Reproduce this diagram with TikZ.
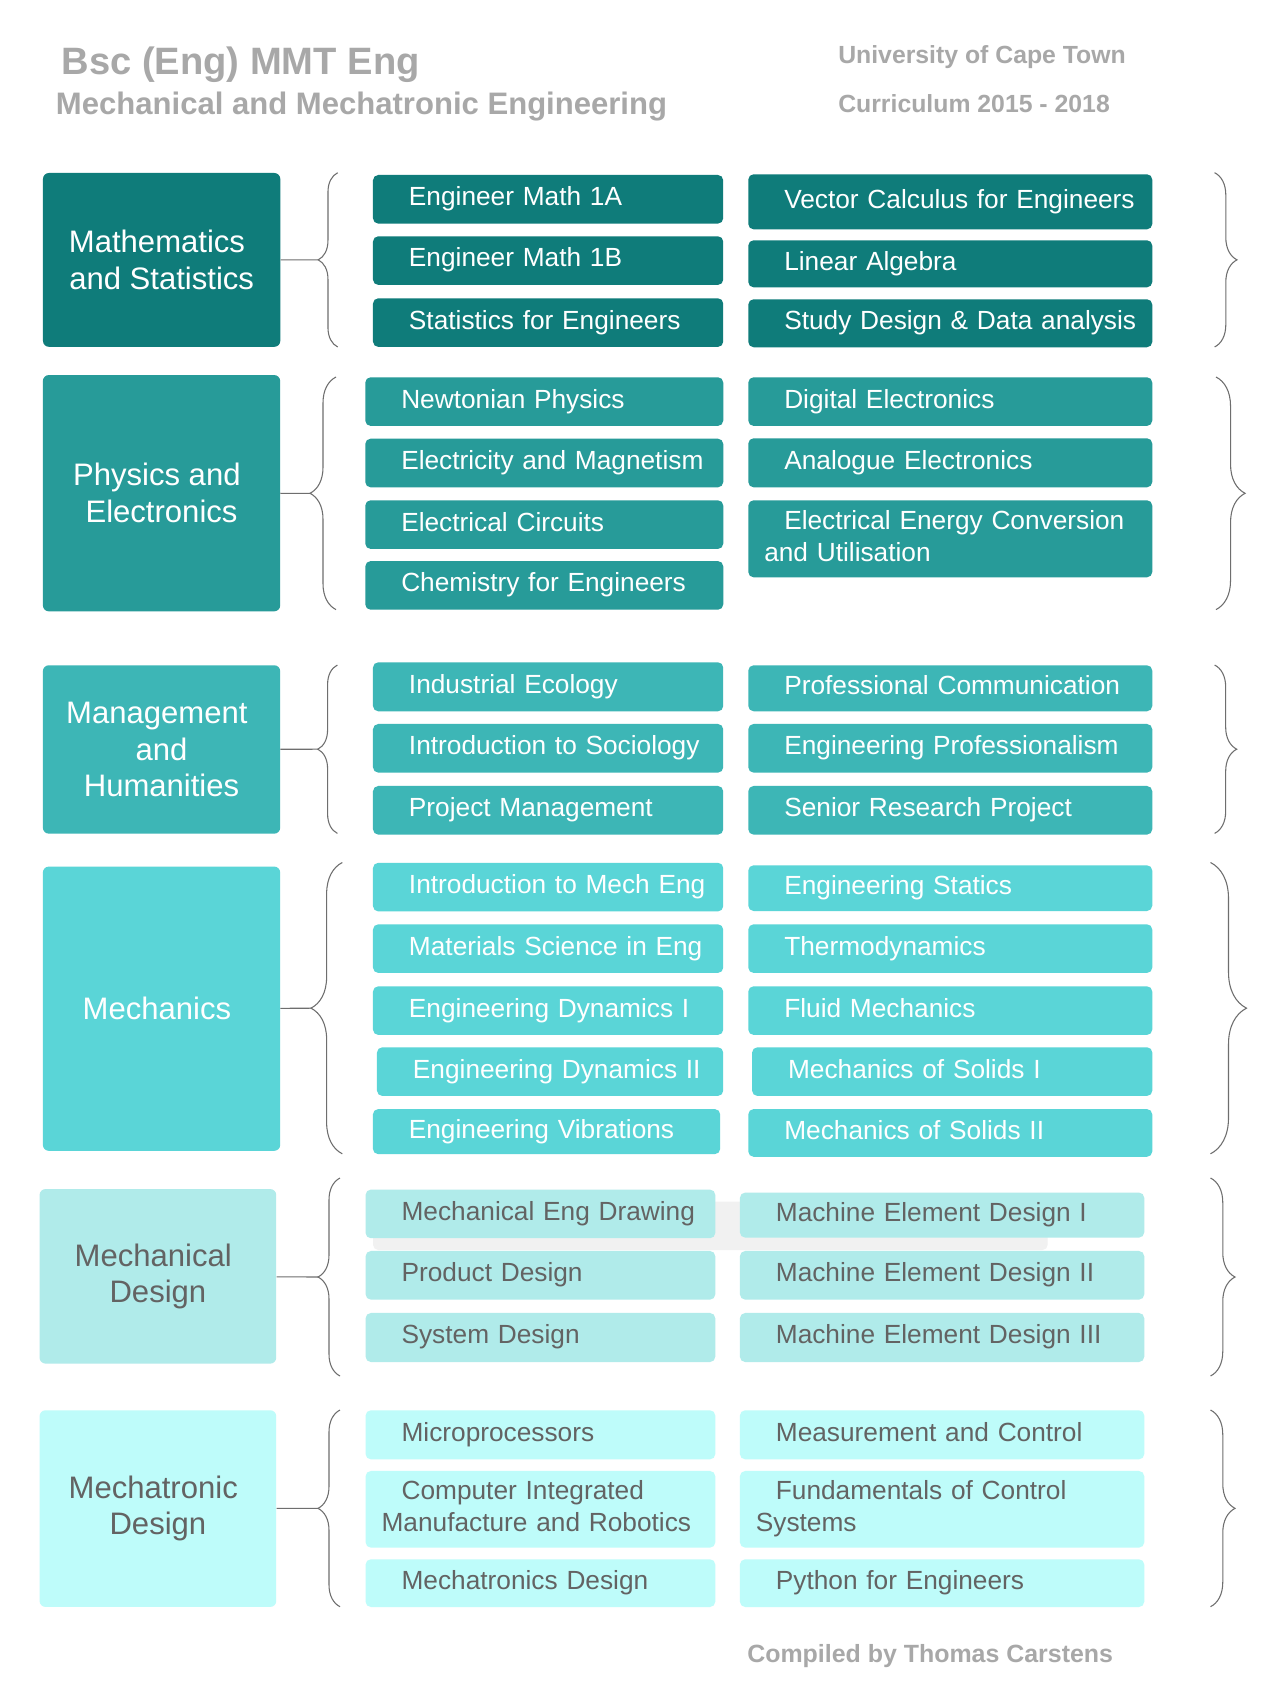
\documentclass[tikz,border=0pt]{standalone}
\usepackage{fontspec}
\setmainfont{Liberation Sans}
\usetikzlibrary{decorations.pathreplacing}
\definecolor{tealA}{HTML}{0F7C7A}
\definecolor{tealB}{HTML}{279B99}
\definecolor{tealC}{HTML}{3DB6B6}
\definecolor{tealD}{HTML}{5AD5D7}
\definecolor{tealE}{HTML}{B0EBEA}
\definecolor{tealF}{HTML}{BEFCFA}
\definecolor{darktext}{HTML}{636363}
\definecolor{headgray}{HTML}{A8A8A8}
\definecolor{linegray}{HTML}{6E6E6E}
\definecolor{shadegray}{HTML}{F1F1F1}

\begin{document}
\begin{tikzpicture}[x=0.75pt,y=-0.75pt,
		group/.style={rounded corners=4.5pt,anchor=north west,align=center,inner sep=4pt,font=\fontsize{23.3}{27.5}\selectfont},
		course/.style={rounded corners=4pt,anchor=north west,align=left,inner xsep=6pt,inner ysep=2pt,minimum height=36.5pt,font=\fontsize{19.7}{24}\selectfont,execute at begin node={\hspace*{21pt}\strut},execute at end node=\strut},
		cola/.style={course,text width=250.7pt},
		colb/.style={course,text width=291pt},
		rowa/.style={fill=tealA,text=white},
		rowb/.style={fill=tealB,text=white},
		rowc/.style={fill=tealC,text=white},
		rowd/.style={fill=tealD,text=white},
		rowe/.style={fill=tealE,text=darktext},
		rowf/.style={fill=tealF,text=darktext},
		head/.style={anchor=base west,inner sep=0pt,text=headgray,font=\bfseries\fontsize{#1}{#1}\selectfont},
		link/.style={draw=linegray,line width=0.8pt},
		curly/.style={link,decorate,decoration={brace,amplitude=#1}}]
		\path[fill=white] (0,0) rectangle (1284,1705);
		% titles
		\node[head=28.6pt] (title) at (61.4,75) {Bsc (Eng) MMT Eng};
		\node[head=23.3pt] (subtitle) at (55.7,115) {Mechanical and Mechatronic Engineering};
		\node[head=18.6pt] (uct) at (838,63.3) {University of Cape Town};
		\node[head=18.6pt] (years) at (838,112.3) {Curriculum 2015 - 2018};
		\node[head=18.7pt] (compiled) at (747,1662.7) {Compiled by Thomas Carstens};

		% mathematics and statistics
		\node[group,rowa,minimum width=178pt,minimum height=130.4pt] (maths) at (42.7,172.7) {Mathematics\hspace*{7pt}\\and Statistics};
		\node[cola,rowa] (matha) at (372.7,174.7) {Engineer Math 1A};
		\node[cola,rowa] (mathb) at (372.7,236) {Engineer Math 1B};
		\node[cola,rowa] (stats) at (372.7,298) {Statistics for Engineers};
		\node[colb,rowa,minimum height=41.3pt] (vector) at (748,174) {Vector Calculus for Engineers};
		\node[colb,rowa,minimum height=35.3pt] (linalg) at (748,240) {Linear Algebra};
		\node[colb,rowa,minimum height=36pt] (studydes) at (748,299) {Study Design \& Data analysis};
		\coordinate (mathstip) at (318.3,259.85);
		\draw[curly=14.6pt] (337.7,347) -- (337.7,172.7);
		\draw[curly=16.8pt] (1214.6,172.7) -- (1214.6,347);
		\draw[link] (maths) -- (mathstip);

		% physics and electronics
		\node[group,rowb,minimum width=178pt,minimum height=177.2pt] (phys) at (42.6,374.8) {Physics and\hspace*{7pt}\\Electronics};
		\node[cola,rowb,text width=256.5pt] (newton) at (365,377) {Newtonian Physics};
		\node[cola,rowb,text width=256.5pt] (elmag) at (365,438.4) {Electricity and Magnetism};
		\node[cola,rowb,text width=256.5pt] (circuits) at (365,500) {Electrical Circuits};
		\node[cola,rowb,text width=256.5pt] (chem) at (365,560.8) {Chemistry for Engineers};
		\node[colb,rowb] (digital) at (748,377) {Digital Electronics};
		\node[colb,rowb,minimum height=36.8pt] (analogue) at (748,438) {Analogue Electronics};
		\node[colb,rowb,minimum height=57.8pt] (energy) at (748,500) {Electrical Energy Conversion\\\hspace*{6pt}and Utilisation};
		\coordinate (phystip) at (310,493.3);
		\draw[curly=19.5pt] (336,609.6) -- (336,377);
		\draw[curly=21.8pt] (1216,377) -- (1216,609.6);
		\draw[link] (phys) -- (phystip);

		% management and humanities
		\node[group,rowc,minimum width=178pt,minimum height=126.3pt] (mgmt) at (42.6,665) {Management\hspace*{7pt}\\and\\Humanities};
		\node[cola,rowc,minimum height=36.8pt] (ecology) at (372.7,662) {Industrial Ecology};
		\node[cola,rowc] (sociology) at (372.7,723.7) {Introduction to Sociology};
		\node[cola,rowc] (projman) at (372.7,785.7) {Project Management};
		\node[colb,rowc,minimum height=34.5pt] (profcomm) at (748,665) {Professional Communication};
		\node[colb,rowc] (engprof) at (748,723.7) {Engineering Professionalism};
		\node[colb,rowc] (research) at (748,785.7) {Senior Research Project};
		\coordinate (mgmttip) at (317.8,749.2);
		\draw[curly=14.7pt] (337.4,833.4) -- (337.4,665);
		\draw[curly=16.6pt] (1214.6,665) -- (1214.6,833.4);
		\draw[link] (mgmt) -- (mgmttip);

		% mechanics
		\node[group,rowd,minimum width=178pt,minimum height=213.2pt] (mech) at (42.6,866.3) {Mechanics\hspace*{7pt}};
		\node[cola,rowd] (intromech) at (372.7,862.5) {Introduction to Mech Eng};
		\node[cola,rowd] (materials) at (372.7,924) {Materials Science in Eng};
		\node[cola,rowd] (dynone) at (372.7,986) {Engineering Dynamics I};
		\node[cola,rowd,text width=247.7pt] (dyntwo) at (376.7,1047) {Engineering Dynamics II};
		\node[cola,rowd,text width=248.5pt,minimum height=33.8pt] (vibes) at (372.6,1108.8) {Engineering Vibrations};
		\node[colb,rowd,minimum height=34.3pt] (statics) at (748,865) {Engineering Statics};
		\node[colb,rowd] (thermo) at (748,924) {Thermodynamics};
		\node[colb,rowd] (fluids) at (748,986) {Fluid Mechanics};
		\node[colb,rowd,text width=288.2pt] (solone) at (751.8,1047) {Mechanics of Solids I};
		\node[colb,rowd,minimum height=35.8pt] (soltwo) at (748,1108.8) {Mechanics of Solids II};
		\coordinate (mechtip) at (311,1008.2);
		\draw[curly=23.5pt] (342.3,1153.8) -- (342.3,862.5);
		\draw[curly=27pt] (1210.5,862.5) -- (1210.5,1153.8);
		\draw[link] (mech) -- (mechtip);

		% mechanical design
		\node[group,rowe,minimum width=177.5pt,minimum height=130.9pt] (mdesign) at (39.3,1188.8) {Mechanical\hspace*{7pt}\\Design};
		\fill[shadegray,rounded corners=4pt] (373,1201.7) rectangle (1047.7,1250);
		\node[cola,rowe,text width=250.3pt] (drawing) at (365.3,1189.3) {Mechanical Eng Drawing};
		\node[cola,rowe,text width=250.3pt] (product) at (365.3,1250.7) {Product Design};
		\node[cola,rowe,text width=250.3pt,minimum height=36.8pt] (system) at (365.3,1312.7) {System Design};
		\node[colb,rowe,text width=291.3pt,minimum height=33.8pt] (medone) at (739.6,1192.3) {Machine Element Design I};
		\node[colb,rowe,text width=291.3pt] (medtwo) at (739.6,1250.7) {Machine Element Design II};
		\node[colb,rowe,text width=291.3pt,minimum height=36.8pt] (medthree) at (739.6,1312.7) {Machine Element Design III};
		\coordinate (mdesigntip) at (318,1277);
		\draw[curly=16.5pt] (340,1376) -- (340,1178);
		\draw[curly=18.4pt] (1210.5,1178) -- (1210.5,1376);
		\draw[link] (mdesign) -- (mdesigntip);

		% mechatronic design
		\node[group,rowf,minimum width=177.5pt,minimum height=147.5pt] (mtron) at (39.3,1410) {Mechatronic\hspace*{7pt}\\Design};
		\node[cola,rowf,text width=250.3pt,minimum height=36.8pt] (micro) at (365.3,1410) {Microprocessors};
		\node[cola,rowf,text width=250.3pt,minimum height=57.5pt] (cim) at (365.3,1470.7) {Computer Integrated\\\hspace*{6pt}Manufacture and Robotics};
		\node[cola,rowf,text width=250.3pt,minimum height=35.8pt] (mtrondes) at (365.3,1559) {Mechatronics Design};
		\node[colb,rowf,text width=291.3pt,minimum height=36.8pt] (measure) at (739.6,1410) {Measurement and Control};
		\node[colb,rowf,text width=291.3pt,minimum height=57.5pt] (control) at (739.6,1470.7) {Fundamentals of Control\\\hspace*{6pt}Systems};
		\node[colb,rowf,text width=291.3pt,minimum height=35.8pt] (python) at (739.6,1559) {Python for Engineers};
		\coordinate (mtrontip) at (318,1508.35);
		\draw[curly=16.5pt] (340,1606.7) -- (340,1410);
		\draw[curly=18.4pt] (1210.5,1410) -- (1210.5,1606.7);
		\draw[link] (mtron) -- (mtrontip);
	\end{tikzpicture}
\end{document}
